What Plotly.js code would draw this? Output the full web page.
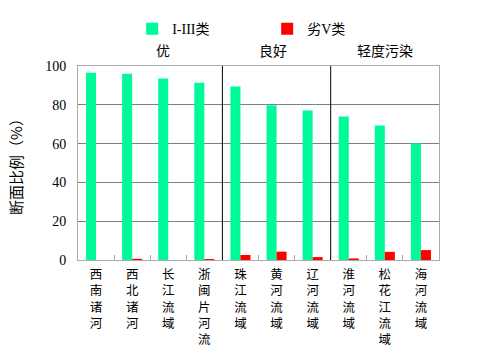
<!DOCTYPE html>
<html><head><meta charset="utf-8">
<script src="https://cdn.plot.ly/plotly-3.0.1.min.js"></script>
<style>html,body{margin:0;padding:0;background:#fff}</style>
</head><body><div id="chart" style="width:482px;height:354px"></div>
<script>
const categories = ['西南诸河','西北诸河','长江流域','浙闽片河流','珠江流域','黄河流域','辽河流域','淮河流域','松花江流域','海河流域'];
const goodValues = [96.5, 96.0, 93.5, 91.4, 89.4, 79.8, 77.0, 74.0, 69.3, 60.0];
const badValues = [0, 0.6, 0, 0.5, 2.6, 4.3, 1.5, 0.8, 4.2, 5.1];
const groupLabels = ['优','良好','轻度污染'];
const groupCenters = [1.85, 4.9, 8];
const separators = [3.5, 6.5];
const yTicks = [0, 20, 40, 60, 80, 100];

const cjk = 'Noto Sans CJK SC, sans-serif';
const serif = 'Liberation Serif, Noto Sans CJK SC, serif';
const tickText = categories.map(c => c.split('').join('<br>'));

const traces = [
  {type:'bar', name:'I-III类', x:categories, y:goodValues, marker:{color:'#00FA9A'}},
  {type:'bar', name:'劣V类', x:categories, y:badValues, marker:{color:'#FF0000'}}
];

const layout = {
  width:482, height:354,
  margin:{l:78, r:43, t:66, b:94},
  paper_bgcolor:'#fff', plot_bgcolor:'#fff',
  barmode:'group', bargap:0.445, bargroupgap:0,
  font:{family:cjk, size:13, color:'#000'},
  showlegend:true,
  legend:{orientation:'h', x:0.15, y:1.19, xanchor:'left', yanchor:'middle',
          font:{family:serif, size:14},
          entrywidth:90, entrywidthmode:'pixels', itemclick:false},
  xaxis:{type:'category', tickvals:categories, ticktext:tickText,
         tickson:'boundaries', ticks:'inside', ticklen:5, tickcolor:'#aaa',
         showline:true, linecolor:'#aaa', linewidth:1, mirror:true,
         showgrid:false, tickfont:{family:serif, size:12.5}, ticklabelstandoff:3,
         range:[-0.5, 9.5]},
  yaxis:{range:[0,100], tickvals:yTicks, ticks:'', showline:true, linecolor:'#aaa',
         linewidth:1, mirror:true, gridcolor:'#808080', gridwidth:1, zeroline:false,
         tickfont:{family:serif, size:14}, ticklabelstandoff:8,
         title:{text:'断面比例（%）', font:{family:cjk, size:15}, standoff:18}},
  shapes: separators.map(s => ({type:'line', xref:'x', yref:'paper', x0:s, x1:s, y0:0, y1:1,
                                 line:{color:'#000', width:1}})),
  annotations: groupLabels.map((t,i) => ({text:t, xref:'x', yref:'paper', x:groupCenters[i], y:1.08,
                                          showarrow:false, font:{family:cjk, size:14}, yanchor:'middle'}))
};
Plotly.newPlot('chart', traces, layout, {displayModeBar:false, staticPlot:true});
</script></body></html>
